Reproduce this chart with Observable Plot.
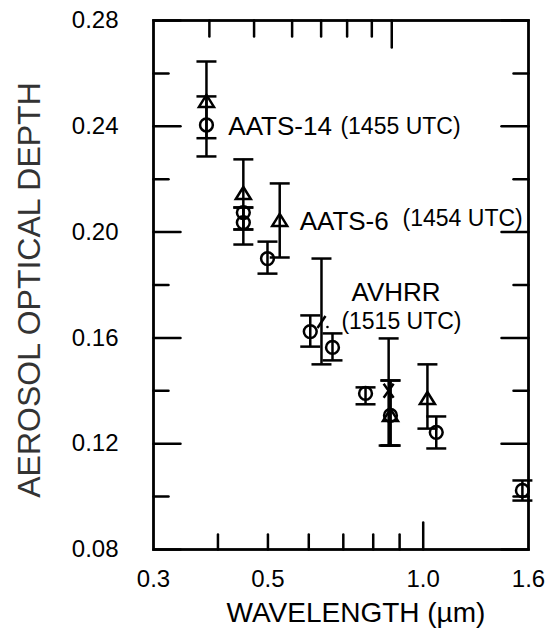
<!DOCTYPE html>
<html><head><meta charset="utf-8">
<script src="https://cdn.jsdelivr.net/npm/d3@7"></script>
<script src="https://cdn.jsdelivr.net/npm/@observablehq/plot@0.6"></script>
<style>body{margin:0;background:#fff}</style>
</head><body><div id="chart"></div>
<script>
// AATS-14 (circles)
const aats14Wavelength = [0.380, 0.448, 0.448, 0.499, 0.604, 0.667, 0.773, 0.864, 1.06, 1.557];
const aats14Aod        = [0.2405, 0.2074, 0.2036, 0.190, 0.1624, 0.1564, 0.139, 0.1307, 0.1243, 0.1023];
const aats14Low        = [0.2355, 0.201, 0.201, 0.1843, 0.1567, 0.1515, 0.1349, 0.1193, 0.1182, 0.0985];
const aats14High       = [0.2513, 0.2093, 0.2093, 0.1964, 0.1685, 0.1617, 0.1413, 0.1439, 0.1303, 0.1061];
// AATS-6 (triangles)
const aats6Wavelength = [0.380, 0.448, 0.527, 0.864, 1.019];
const aats6Aod        = [0.2494, 0.2146, 0.2044, 0.1307, 0.1371];
const aats6Low        = [0.2286, 0.1953, 0.1904, 0.1193, 0.1257];
const aats6High       = [0.2645, 0.2275, 0.2184, 0.1439, 0.150];
// AVHRR
const avhrrWavelength = [0.635, 0.857];
const avhrrAod        = [0.166, 0.140];
const avhrrLow        = [0.150, 0.1193];
const avhrrHigh       = [0.190, 0.1598];

// axis ticks
const yMajorTicks = [0.08, 0.12, 0.16, 0.20, 0.24, 0.28];
const yMinorTicks = [0.10, 0.14, 0.18, 0.22, 0.26];
const xLabelTicks = [0.3, 0.5, 1.0, 1.6];
const xTickLabels = ["0.3", "0.5", "1.0", "1.6"];
const bottomMinorTicks = [0.4, 0.5, 0.6, 0.7, 0.8, 0.9];
const bottomMajorTicks = [1.0];
const topMinorTicks = [0.385, 0.47, 0.557, 0.634, 0.712, 0.795];
const topMajorTicks = [0.869];

// annotations
const labelText = ["AATS-14", "(1455 UTC)", "AATS-6", "(1454 UTC)", "AVHRR", "(1515 UTC)"];
const labelWavelength = [0.419, 0.691, 0.576, 0.912, 0.726, 0.694];
const labelAod = [0.240, 0.240, 0.204, 0.205, 0.177, 0.1662];
const labelSize = [26, 23, 26, 23, 26, 23];

const rows = (w, a, lo, hi) => w.map((d, i) => ({w: d, aod: a[i], lo: lo[i], hi: hi[i]}));
const aats14 = rows(aats14Wavelength, aats14Aod, aats14Low, aats14High);
const aats6 = rows(aats6Wavelength, aats6Aod, aats6Low, aats6High);
const avhrr = rows(avhrrWavelength, avhrrAod, avhrrLow, avhrrHigh);
const allBars = [...aats14, ...aats6, ...avhrr];
const labels = labelText.map((t, i) => ({t, w: labelWavelength[i], aod: labelAod[i], s: labelSize[i]}));

const tickShape = {draw(ctx, l) { ctx.moveTo(0, 0); ctx.lineTo(0, -l); }};
const capSymbol = {draw(ctx) { ctx.moveTo(-10, 0); ctx.lineTo(10, 0); }};
const triSymbol = {draw(ctx) { ctx.moveTo(0, -6.5); ctx.lineTo(7.5, 5.5); ctx.lineTo(-7.5, 5.5); ctx.closePath(); }};
const timesSymbol = {draw(ctx) { ctx.moveTo(-5, -7); ctx.lineTo(5, 7); ctx.moveTo(5, -7); ctx.lineTo(-5, 7); }};
const slashSymbol = {draw(ctx) { ctx.moveTo(-4, 6); ctx.lineTo(4, -6); }};

const sw = 2.5;
const tick = (data, opts) => Plot.vector(data, {shape: tickShape, anchor: "start", stroke: "black", strokeWidth: sw, ...opts});

const chart = Plot.plot({
  width: 546, height: 634,
  marginLeft: 153, marginRight: 18, marginTop: 20, marginBottom: 85,
  style: {fontFamily: "'Liberation Sans', Arial, sans-serif", background: "#fff", color: "black"},
  x: {type: "log", domain: [0.3, 1.6]},
  y: {domain: [0.08, 0.28]},
  marks: [
    Plot.axisX({ticks: xLabelTicks, tickFormat: d => xTickLabels[xLabelTicks.indexOf(d)], tickSize: 0, tickPadding: 20, fontSize: 24, label: null}),
    Plot.axisY({ticks: yMajorTicks, tickFormat: d3.format(".2f"), tickSize: 0, tickPadding: 35, fontSize: 24, label: null}),
    // ticks
    tick(yMinorTicks, {x: () => 0.3, y: d => d, rotate: 90, length: 15}),
    tick(yMajorTicks, {x: () => 0.3, y: d => d, rotate: 90, length: 27}),
    tick(yMinorTicks, {x: () => 1.6, y: d => d, rotate: -90, length: 15}),
    tick(yMajorTicks, {x: () => 1.6, y: d => d, rotate: -90, length: 27}),
    tick(bottomMinorTicks, {x: d => d, y: () => 0.08, rotate: 0, length: 15}),
    tick(bottomMajorTicks, {x: d => d, y: () => 0.08, rotate: 0, length: 27}),
    tick(topMinorTicks, {x: d => d, y: () => 0.28, rotate: 180, length: 16}),
    tick(topMajorTicks, {x: d => d, y: () => 0.28, rotate: 180, length: 27}),
    Plot.frame({stroke: "black", strokeWidth: 2.8}),
    // error bars
    Plot.ruleX(allBars, {x: "w", y1: "lo", y2: "hi", stroke: "black", strokeWidth: sw}),
    Plot.dot(allBars, {x: "w", y: "lo", symbol: capSymbol, r: 5, fill: "none", stroke: "black", strokeWidth: sw}),
    Plot.dot(allBars, {x: "w", y: "hi", symbol: capSymbol, r: 5, fill: "none", stroke: "black", strokeWidth: sw}),
    // markers
    Plot.dot(aats14, {x: "w", y: "aod", r: 6.4, fill: "none", stroke: "black", strokeWidth: sw}),
    Plot.dot(aats6, {x: "w", y: "aod", symbol: triSymbol, r: 5, fill: "none", stroke: "black", strokeWidth: sw}),
    Plot.dot(avhrr.slice(0, 1), {x: "w", y: "aod", symbol: slashSymbol, r: 5, fill: "none", stroke: "black", strokeWidth: sw}),
    Plot.dot(avhrr.slice(0, 1), {x: "w", y: "aod", r: 1.3, fill: "black", stroke: "none", dx: 6, dy: 5}),
    Plot.dot(avhrr.slice(1), {x: "w", y: "aod", symbol: timesSymbol, r: 5, fill: "none", stroke: "black", strokeWidth: sw}),
    // annotations
    Plot.text(labels, {x: "w", y: "aod", text: "t", fontSize: d => d.s, textAnchor: "start", lineAnchor: "middle", fill: "black"}),
    // axis titles
    Plot.text(["WAVELENGTH (\u00b5m)"], {frameAnchor: "bottom", textAnchor: "middle", dx: 15, dy: 64, lineAnchor: "middle", fontSize: 28, fill: "black"}),
    Plot.text(["AEROSOL OPTICAL DEPTH"], {frameAnchor: "left", textAnchor: "middle", rotate: -90, dx: -124, dy: 5, lineAnchor: "middle", fontSize: 32, fill: "#333"})
  ]
});
document.getElementById("chart").appendChild(chart);
</script>
</body></html>
